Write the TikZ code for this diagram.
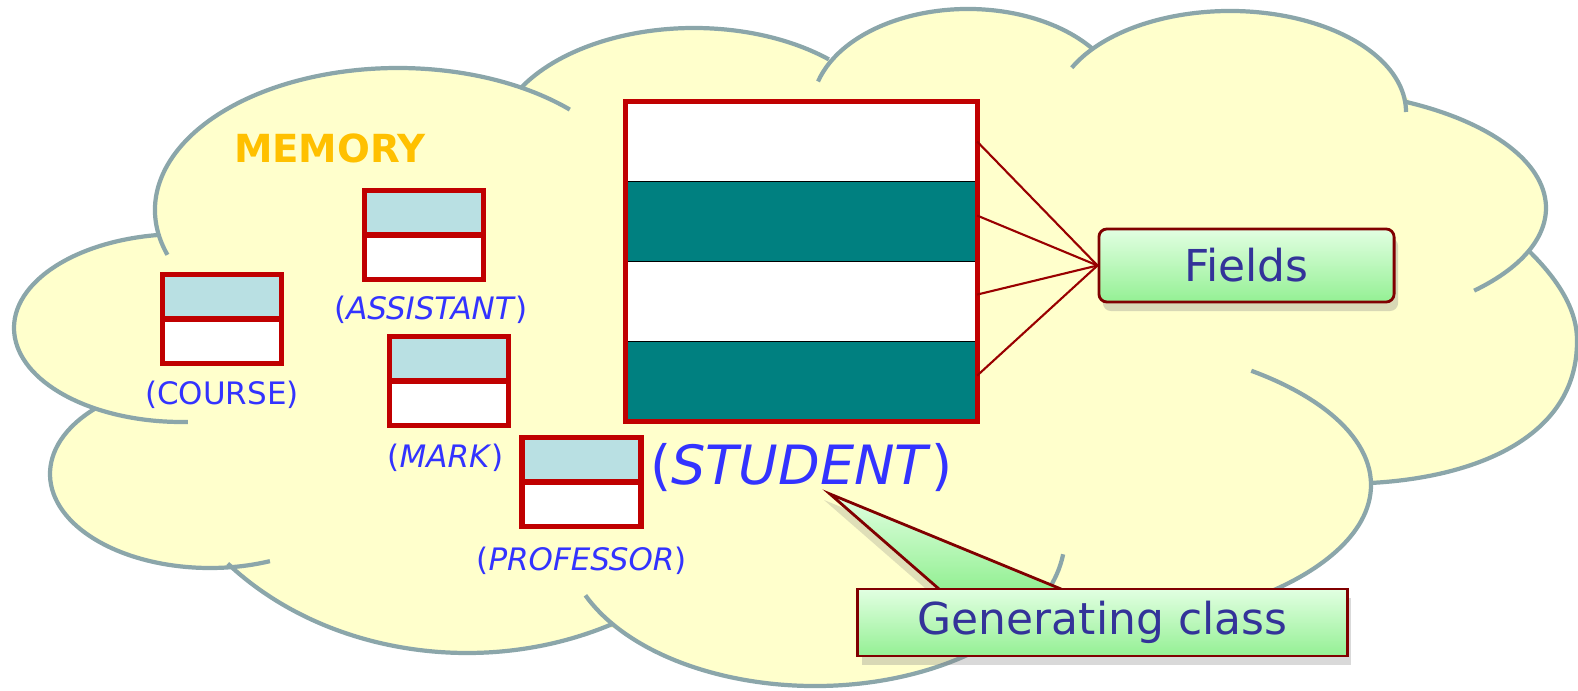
\documentclass[tikz,border=0pt]{standalone}
\usepackage{fontspec}
\setmainfont{DejaVu Sans}
\usetikzlibrary{positioning}
\usetikzlibrary{calc}
\usetikzlibrary{shadows}
\definecolor{cloudfill}{RGB}{255,255,204}
\definecolor{cloudline}{RGB}{139,166,170}
\definecolor{objred}{RGB}{192,0,0}
\definecolor{objblue}{RGB}{185,224,227}
\definecolor{fieldteal}{RGB}{0,128,128}
\definecolor{labelblue}{RGB}{51,51,255}
\definecolor{memgold}{RGB}{255,192,0}
\definecolor{notered}{RGB}{128,0,0}
\definecolor{notetext}{RGB}{51,51,153}
\definecolor{notelight}{RGB}{226,255,226}
\definecolor{notegreen}{RGB}{148,240,148}
\definecolor{arrowred}{RGB}{153,0,0}
\tikzset{cloud fill/.style={fill=cloudfill}}
\tikzset{cloud line/.style={draw=cloudline,line width=1.2pt}}
\tikzset{obj part/.style={draw=objred,line width=1.45pt,minimum width=1.19cm,minimum height=0.445cm,inner sep=0pt,outer sep=0pt}}
\tikzset{obj label/.style={text=labelblue,inner sep=0pt,font=\fontsize{8.8}{10}\selectfont}}
\tikzset{stripe/.style={draw=black,line width=0.5pt,minimum width=3.51cm,minimum height=0.8cm,inner sep=0pt,outer sep=0pt}}
\tikzset{note/.style={draw=notered,line width=0.8pt,text=notetext,top color=notelight,bottom color=notegreen,
                      font=\fontsize{12.5}{15}\selectfont,
                      drop shadow={shadow xshift=0.4mm,shadow yshift=-0.9mm,opacity=0.3}}}
\tikzset{pointer/.style={draw=arrowred,line width=0.6pt}}
% lobes of the cloud: centre x/centre y/x radius/y radius/start/end
\def\lobes{398/210/243/142/161.6/315,
           182/328/168/94/261.4/88,
           210/474/160/94/224/68,
           467/391/318/262/138.8/62.7,
           815/536/250/150/156.7/7,
           1048/485/323/147/309/420,
           1290/208/256/119/296.7/404,
           1230/112/176/101/206/360,
           968/109/156/100/196/323,
           694/148/200/120/210/312.4}

\begin{document}
\begin{tikzpicture}[x=0.01cm,y=-0.01cm]
  \useasboundingbox (0,0) rectangle (1578,691);

  % cloud
  \foreach \cx/\cy/\rx/\ry/\a/\b in \lobes
  {
  \fill[cloud fill] (\cx,\cy) ellipse [x radius=\rx,y radius=\ry];
  }
  \fill[cloud fill] (158,235) -- (523,88) -- (828,60) -- (1096,47) -- (1405,95)
    -- (1530,252) .. controls (1552,274) and (1577,305) .. (1577,340)
    .. controls (1578,440) and (1470,478) .. (1370,483)
    -- (1272,590) -- (1060,560) -- (980,654) -- (613,628) -- (228,564) -- (95,409) -- cycle;
  \foreach \cx/\cy/\rx/\ry/\a/\b in \lobes
  {
  \draw[cloud line] (\cx,\cy) ++(\a:{\rx} and {\ry})
    arc [start angle=\a,end angle=\b,x radius=\rx,y radius=\ry];
  }
  \draw[cloud line] (1530,252) .. controls (1552,274) and (1577,305) .. (1577,340)
    .. controls (1578,440) and (1470,478) .. (1370,483);

  \node[text=memgold,font=\bfseries\fontsize{11}{13}\selectfont] (memory) at (330,148) {MEMORY};

  % small objects
  \foreach \name/\x/\y/\txt/\dx/\gap in
  {
  course/222/296.75/{(COURSE)}/0/1.7,
  assistant/424/212.75/{(\textit{ASSISTANT})}/0.7/1.6,
  mark/449/358.75/{(\textit{MARK})}/-0.35/1.8,
  professor/581.5/459.75/{(\textit{PROFESSOR})}/0/2.0
  }
  {
  \node[obj part,fill=objblue] (\name-top) at (\x,\y) {};
  \node[obj part,fill=white,below=0pt of \name-top] (\name-bot) {};
  \node[obj label,below=\gap mm of \name-bot,xshift=\dx mm] (\name-lbl) {\txt};
  }

  % the student object
  \node[stripe,fill=white] (stripe1) at (801.5,141.5) {};
  \node[stripe,fill=fieldteal,below=0pt of stripe1] (stripe2) {};
  \node[stripe,fill=white,below=0pt of stripe2] (stripe3) {};
  \node[stripe,fill=fieldteal,below=0pt of stripe3] (stripe4) {};
  \draw[objred,line width=1.45pt] (stripe1.north west) rectangle (stripe4.south east);
  \node[obj label,font=\fontsize{15.4}{18}\selectfont,below=2.1mm of stripe4] (student-lbl) {(\textit{STUDENT})};

  % notes
  \node[note,rounded corners=0.8mm,minimum width=2.95cm,minimum height=0.73cm] (fields) at (1246.5,265.5) {Fields};

  \foreach \s/\d in {1/0,2/0.6,3/0.7,4/0.6}
    \draw[pointer] ([yshift=\d mm]stripe\s.east) -- (fields.west);

  \coordinate (gen-c) at (1102.5,622.5);
  \coordinate (gen-tip) at (830,494);
  \coordinate (gen-l) at ($(gen-c)+(-163.5,-33.5)$);
  \coordinate (gen-r) at ($(gen-c)+(-41.5,-33.5)$);
  \path[top color=notelight,bottom color=notegreen,drop shadow={shadow xshift=-0.6mm,shadow yshift=-0.6mm,opacity=0.25}]
    (gen-l) -- (gen-tip) -- (gen-r) -- cycle;
  \draw[notered,line width=0.8pt] (gen-l) -- (gen-tip) -- (gen-r);
  \node[note,minimum width=4.89cm,minimum height=0.67cm] (gen) at (gen-c) {Generating class};
\end{tikzpicture}
\end{document}
